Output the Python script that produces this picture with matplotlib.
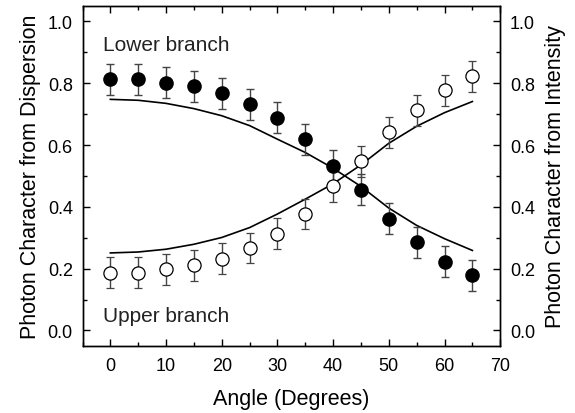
import matplotlib
matplotlib.use("Agg")
import matplotlib.pyplot as plt
from matplotlib.ticker import MultipleLocator

plt.rcParams['font.family'] = ['Liberation Sans', 'DejaVu Sans']

# data
angle = [0, 5, 10, 15, 20, 25, 30, 35, 40, 45, 50, 55, 60, 65]
lower_pts = [0.813, 0.813, 0.802, 0.790, 0.767, 0.732, 0.689, 0.619, 0.533, 0.455, 0.361, 0.286, 0.222, 0.178]
upper_pts = [0.187, 0.187, 0.198, 0.211, 0.232, 0.267, 0.313, 0.377, 0.467, 0.547, 0.642, 0.713, 0.778, 0.822]
err = [0.05] * 14

# dispersion fit curves
lower_fit = [0.748, 0.745, 0.735, 0.718, 0.695, 0.663, 0.619, 0.576, 0.525, 0.466, 0.396, 0.340, 0.297, 0.259]
upper_fit = [0.251, 0.254, 0.263, 0.279, 0.301, 0.333, 0.377, 0.425, 0.475, 0.536, 0.606, 0.661, 0.705, 0.741]

fig = plt.figure(figsize=(5.75, 4.14), dpi=100)
ax = fig.add_axes([0.1435, 0.162, 0.7265, 0.821])

ax.plot(angle, lower_fit, color='black', lw=1.2, zorder=2)
ax.plot(angle, upper_fit, color='black', lw=1.2, zorder=2)

ax.errorbar(angle, lower_pts, yerr=err, fmt='o', color='black', mfc='black', mec='black',
            ms=9.5, ecolor='#444444', elinewidth=1.0, capsize=3, capthick=1.0, zorder=3)
ax.errorbar(angle, upper_pts, yerr=err, fmt='o', color='black', mfc='white', mec='black',
            ms=9.5, mew=0.9, ecolor='#444444', elinewidth=1.0, capsize=3, capthick=1.0, zorder=3)

ax.text(-1.4, 0.925, 'Lower branch', fontsize=15, va='center', ha='left', color='#222222')
ax.text(-1.4, 0.05, 'Upper branch', fontsize=15, va='center', ha='left', color='#222222')

ax.set_xlim(-5, 70)
ax.set_ylim(-0.05, 1.05)
ax.xaxis.set_major_locator(MultipleLocator(10))
ax.xaxis.set_minor_locator(MultipleLocator(5))
ax.yaxis.set_major_locator(MultipleLocator(0.2))
ax.yaxis.set_minor_locator(MultipleLocator(0.1))
ax.yaxis.set_major_formatter(matplotlib.ticker.FormatStrFormatter('%.1f'))
ax.tick_params(which='both', direction='in', top=True, right=False, labelsize=13, width=1.0)
ax.tick_params(which='major', length=5)
ax.tick_params(which='minor', length=3)
ax.tick_params(axis='x', which='major', pad=8)
ax.tick_params(axis='y', which='major', pad=7)

ax.set_xlabel('Angle (Degrees)', fontsize=15.5, labelpad=10)
ax.set_ylabel('Photon Character from Dispersion', fontsize=15.5, labelpad=5)

ax2 = ax.twinx()
ax2.set_ylim(-0.05, 1.05)
ax2.yaxis.set_major_locator(MultipleLocator(0.2))
ax2.yaxis.set_minor_locator(MultipleLocator(0.1))
ax2.yaxis.set_major_formatter(matplotlib.ticker.FormatStrFormatter('%.1f'))
ax2.tick_params(which='both', direction='in', labelsize=13, width=1.0)
ax2.tick_params(which='major', length=5, pad=7)
ax2.tick_params(which='minor', length=3)
ax2.set_ylabel('Photon Character from Intensity', fontsize=15.5, labelpad=7)

for a in (ax, ax2):
    for s in a.spines.values():
        s.set_linewidth(1.0)

fig.savefig('out.png', dpi=100)
